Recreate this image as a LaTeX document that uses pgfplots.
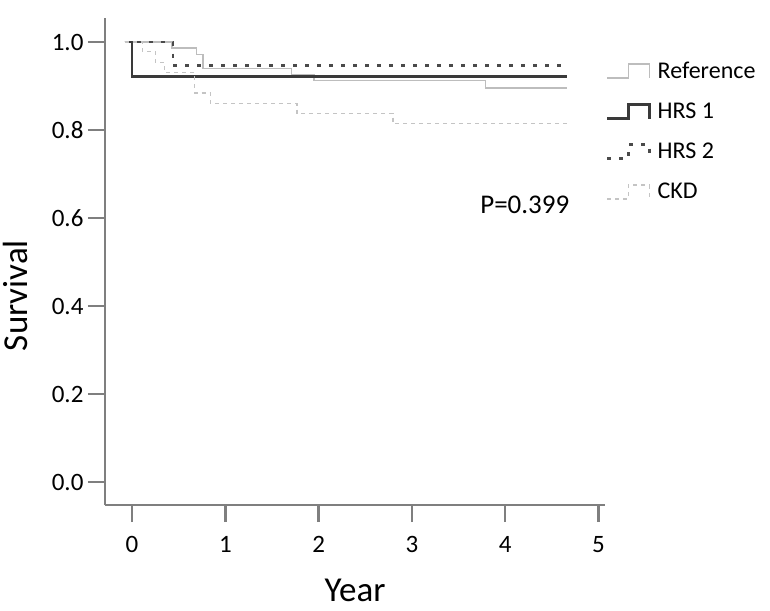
\documentclass[border=0pt]{standalone}
\usepackage{pgfplots}
\pgfplotsset{compat=1.18}
\usepackage{fontspec}
\setmainfont{Carlito}
\definecolor{axgray}{HTML}{7F7F7F}
\definecolor{hrsone}{HTML}{3A3A3A}
\definecolor{hrstwo}{HTML}{4A4A4A}
\definecolor{refc}{HTML}{BDBDBD}
\definecolor{ckdc}{HTML}{C4C4C4}
\begin{document}
\begin{tikzpicture}[x=1pt,y=1pt]
\path[use as bounding box] (0,0) rectangle (770,610);
\begin{axis}[
  at={(105pt,105pt)}, anchor=south west,
  scale only axis, width=500pt, height=487pt,
  xmin=-0.29, xmax=5.07, ymin=-0.052, ymax=1.055,
  axis lines=left, axis line style={-, draw=axgray, line width=2pt},
  every tick/.append style={draw=axgray, line width=2.5pt},
  tick align=outside, major tick length=17pt,
  xtick={0,1,2,3,4,5}, ytick={0,0.2,0.4,0.6,0.8,1.0},
  /pgf/number format/assume math mode=true,
  yticklabel style={/pgf/number format/fixed, /pgf/number format/fixed zerofill, /pgf/number format/precision=1, font=\fontsize{25}{29}\selectfont, xshift=-1pt},
  xticklabel style={font=\fontsize{25}{29}\selectfont, yshift=-11pt},
  xlabel={Year}, ylabel={Survival},
  xlabel style={font=\fontsize{35}{40}\selectfont, at={(axis description cs:0.5,-0.175)}, anchor=center},
  ylabel style={font=\fontsize{35}{40}\selectfont, at={(axis description cs:-0.18,0.43)}, anchor=center},
  legend cell align=left,
  legend style={draw=none, fill=none, at={(axis description cs:0.996,0.918)}, anchor=north west,
    font=\fontsize{24}{27}\selectfont, row sep=19pt,
    /tikz/every odd column/.append style={column sep=5pt}},
  legend image code/.code={\draw[#1] (0pt,-7pt) -- (21pt,-7pt) -- (21pt,7pt) -- (42pt,7pt) -- (42pt,-7pt);},
  clip=false,
]
\addplot[const plot, refc, line width=1.5pt] coordinates {(-0.08,1) (0.43,0.987) (0.69,0.972) (0.76,0.94) (1.71,0.926) (1.95,0.913) (3.79,0.896) (4.66,0.896)};
\addlegendentry{Reference}
\addplot[const plot, hrsone, line width=2.5pt] coordinates {(-0.08,1) (0.0,0.922) (4.66,0.922)};
\addlegendentry{HRS 1}
\addplot[const plot, hrstwo, line width=2.5pt, dash pattern=on 4pt off 8pt] coordinates {(-0.08,1) (0.44,0.947) (4.66,0.947)};
\addlegendentry{HRS 2}
\addplot[const plot, ckdc, line width=1.5pt, dash pattern=on 4pt off 4pt] coordinates {(-0.08,1) (0.11,0.979) (0.25,0.954) (0.35,0.931) (0.67,0.884) (0.84,0.861) (1.77,0.838) (2.80,0.815) (4.66,0.815)};
\addlegendentry{CKD}
\node[font=\fontsize{27}{30}\selectfont] at (axis cs:4.21,0.63) {P=0.399};
\end{axis}
\end{tikzpicture}
\end{document}
